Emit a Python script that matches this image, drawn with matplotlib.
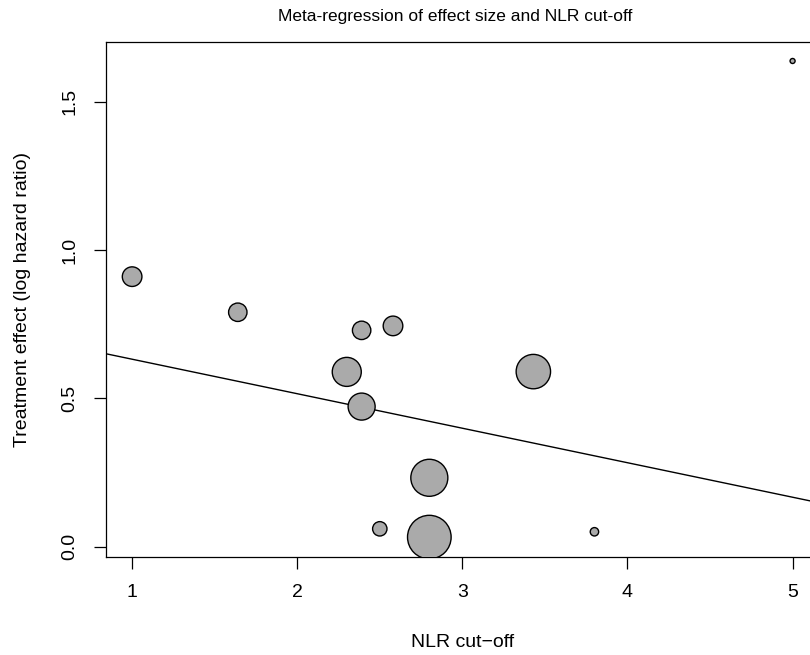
import matplotlib
matplotlib.use("Agg")
import matplotlib.pyplot as plt
import numpy as np

plt.rcParams["font.family"] = ["Liberation Sans", "DejaVu Sans"]

# study-level data
nlr_cutoff = [1.00, 1.64, 2.39, 2.58, 2.30, 2.39, 3.43, 2.80, 2.50, 2.80, 3.80, 5.00]
log_hr = [0.910, 0.790, 0.729, 0.744, 0.589, 0.472, 0.590, 0.232, 0.060, 0.032, 0.050, 1.637]
weights = [106, 94, 94, 106, 225, 196, 313, 361, 59, 497, 22, 9]

# fitted meta-regression line
intercept = 0.748
slope = -0.1163

x_ticks = [1, 2, 3, 4, 5]
y_ticks = [0.0, 0.5, 1.0, 1.5]


def main():
    fig = plt.figure(figsize=(8.1, 6.55), dpi=100)
    ax = fig.add_axes([105.7 / 810, 98.3 / 655, (819 - 105.7) / 810, (556.7 - 42) / 655])

    w = np.asarray(weights, dtype=float)
    radius_px = np.sqrt(w)  # bubble radius proportional to sqrt(weight)
    diam_pt = 2 * radius_px * 0.72 - 0.7
    ax.scatter(nlr_cutoff, log_hr, s=diam_pt ** 2, facecolor="#aaaaaa",
               edgecolor="black", linewidths=1.0, zorder=3)

    xs = np.array([0.0, 6.0])
    ax.plot(xs, intercept + slope * xs, color="black", lw=1.0, zorder=2)

    ax.set_xlim(0.84, 5.16)
    ax.set_ylim(-0.034, 1.701)

    ax.set_xticks(x_ticks)
    ax.set_xticklabels([str(t) for t in x_ticks])
    ax.set_yticks(y_ticks)
    ax.set_yticklabels([f"{t:.1f}" for t in y_ticks], rotation=90, va="center")
    ax.tick_params(axis="both", length=8.5, width=0.9, labelsize=14, direction="out")
    ax.tick_params(axis="x", pad=11)
    ax.tick_params(axis="y", pad=11)

    for sp in ax.spines.values():
        sp.set_linewidth(0.9)

    ax.set_xlabel("NLR cut\u2212off", fontsize=14, labelpad=24)
    ax.set_ylabel("Treatment effect (log hazard ratio)", fontsize=14, labelpad=22)
    fig.text(455 / 810, 1 - 16 / 655, "Meta-regression of effect size and NLR cut-off",
             ha="center", va="center", fontsize=12.5)

    fig.savefig("out.png", dpi=100)
    plt.close("all")


if __name__ == "__main__":
    main()
